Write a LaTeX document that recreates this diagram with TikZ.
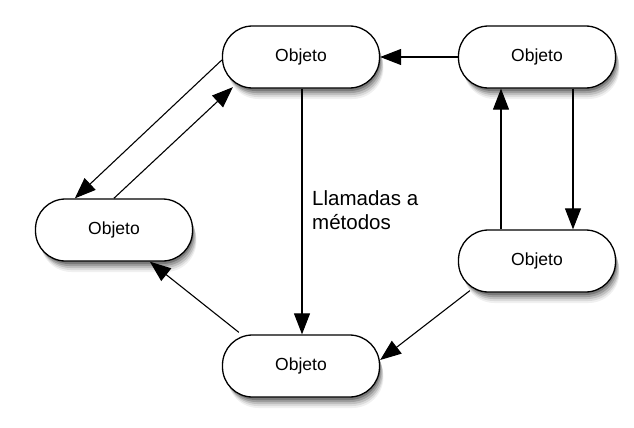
\documentclass[tikz,border=0pt]{standalone}
\usepackage{fontspec}
\setmainfont{Liberation Sans}
\usetikzlibrary{arrows.meta,calc}
\newcommand{\objshadow}[2]{%
  \fill[black!6, rounded corners=31pt] (#1-77.5+4,#2-31+11) rectangle (#1+77.5+5,#2+31+11);
  \fill[black!14, rounded corners=31pt] (#1-77.5+3.5,#2-31+9) rectangle (#1+77.5+4.5,#2+31+9);
  \fill[black!25, rounded corners=31pt] (#1-77.5+3,#2-31+7) rectangle (#1+77.5+4,#2+31+7);
  \fill[black!38, rounded corners=31pt] (#1-77.5+2,#2-31+5) rectangle (#1+77.5+3,#2+31+5);
  \fill[black!52, rounded corners=31pt] (#1-77.5+1.5,#2-31+3) rectangle (#1+77.5+2,#2+31+3);
}
\begin{document}
\begin{tikzpicture}[x=1pt,y=-1pt,
  obj/.style={draw=black, line width=1.3pt, fill=white, rounded corners=30pt,
    minimum width=157pt, minimum height=62pt, inner sep=0pt, font=\fontsize{17.5}{20}\selectfont},
  arr/.style={line width=1.1pt, -{Triangle[length=21pt,width=16pt]}},
  lbl/.style={font=\fontsize{20.5}{24}\selectfont, align=left, inner sep=0pt, anchor=north west}]
\useasboundingbox (0,0) rectangle (634,428);
\objshadow{301}{57}
\objshadow{537}{57}
\objshadow{114}{230}
\objshadow{537}{261}
\objshadow{301}{366}
\node[obj] (tl) at (301,57) {Objeto};
\node[obj] (tr) at (537,57) {Objeto};
\node[obj] (lf) at (114,230) {Objeto};
\node[obj] (rt) at (537,261) {Objeto};
\node[obj] (bt) at (301,366) {Objeto};
\draw[arr] (tr.west) -- (tl.east);
\draw[arr] ($(tl.south)+(1,0)$) -- ($(bt.north)+(1,0)$);
\draw[arr] ($(tr.south)+(36,0)$) -- ($(rt.north)+(36,0)$);
\draw[arr] ($(rt.north)+(-36,0)$) -- ($(tr.south)+(-36,0)$);
\draw[arr] ($(tl.west)+(0,3)$) -- ($(lf.north west)+(40,0)$);
\draw[arr] ($(lf.north west)+(79,0)$) -- ($(tl.south west)+(11,-1.5)$);
\draw[arr] ($(bt.north west)+(17,-2)$) -- ($(lf.south west)+(115,0)$);
\draw[arr] ($(rt.south west)+(12,-2)$) -- ($(bt.east)+(0,-6)$);
\node[lbl] (l1) at (312,190) {Llamadas a\\métodos};
\end{tikzpicture}
\end{document}
